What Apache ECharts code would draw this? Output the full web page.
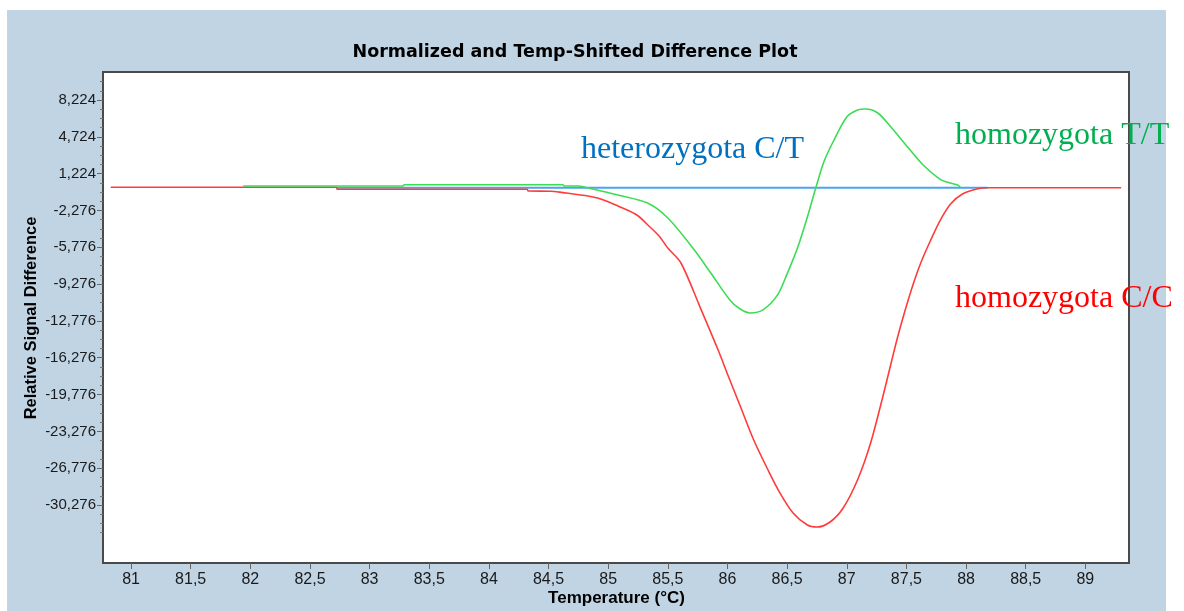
<!DOCTYPE html>
<html>
<head>
<meta charset="utf-8">
<title>Normalized and Temp-Shifted Difference Plot</title>
<script src="https://cdn.jsdelivr.net/npm/echarts@6/dist/echarts.min.js"></script>
<style>
  html, body { margin: 0; padding: 0; background: #ffffff; }
  #chart { width: 1184px; height: 611px; }
</style>
</head>
<body>
<div id="chart"></div>
<script>
// Temperature axis ticks (°C) and relative signal difference ticks
const xTickValues = [81, 81.5, 82, 82.5, 83, 83.5, 84, 84.5, 85, 85.5, 86, 86.5, 87, 87.5, 88, 88.5, 89];
const yTickValues = [8.224, 4.724, 1.224, -2.276, -5.776, -9.276, -12.776, -16.276, -19.776, -23.276, -26.776, -30.276];

// homozygota C/C (red)
const ccTemp = [80.83, 82.72, 82.73, 84.32, 84.33, 84.52, 84.62, 84.71, 84.82, 84.91, 85.00, 85.10, 85.24, 85.35, 85.43, 85.50, 85.61, 85.77, 85.92, 86.01, 86.11, 86.22, 86.34, 86.44, 86.55, 86.67, 86.75, 86.86, 86.97, 87.09, 87.20, 87.31, 87.42, 87.49, 87.56, 87.62, 87.70, 87.78, 87.87, 87.97, 88.09, 88.18, 89.30];
const ccDiff = [-0.07, -0.07, -0.26, -0.26, -0.43, -0.45, -0.58, -0.71, -0.88, -1.09, -1.45, -1.95, -2.71, -3.85, -4.75, -5.85, -7.27, -11.46, -15.5, -18.11, -20.96, -24.10, -26.95, -29.13, -31.03, -32.18, -32.37, -31.89, -30.56, -27.90, -24.38, -19.63, -14.59, -11.74, -9.17, -7.27, -5.18, -3.28, -1.66, -0.71, -0.24, -0.12, -0.12];

// homozygota T/T (green)
const ttTemp = [81.94, 83.28, 83.29, 84.62, 84.63, 84.75, 84.87, 85.08, 85.33, 85.50, 85.71, 85.86, 86.02, 86.10, 86.19, 86.30, 86.42, 86.50, 86.59, 86.67, 86.74, 86.81, 86.89, 87.00, 87.09, 87.16, 87.26, 87.37, 87.51, 87.64, 87.78, 87.86, 87.93, 87.95];
const ttDiff = [0.05, 0.05, 0.17, 0.17, 0.05, 0.05, -0.24, -0.81, -1.57, -2.99, -5.85, -8.22, -10.79, -11.6, -12.02, -11.7, -10.3, -8.3, -5.75, -2.90, -0.14, 2.4, 4.35, 6.61, 7.27, 7.37, 6.99, 5.66, 3.76, 2.04, 0.71, 0.35, 0.14, -0.05];

// heterozygota C/T (blue, reference)
const ctTemp = [82.72, 88.18];
const ctDiff = [-0.12, -0.12];

const pairs = (xs, ys) => xs.map((x, i) => [x, ys[i]]);

// minor ticks: four subdivisions per major step
const yStep = 3.5;
const yMinorTicks = [];
for (let k = -6; k <= 50; k++) {
  const v = +(8.224 + 2 * yStep / 4 - k * yStep / 4).toFixed(4);
  if (v <= 10.0 && v >= -33.2 && !yTickValues.includes(v)) yMinorTicks.push(v);
}

const chart = echarts.init(document.getElementById('chart'), null, { renderer: 'canvas' });

const tickFont = '"Liberation Sans", Arial, sans-serif';
const annotFont = '"Liberation Serif", "Times New Roman", serif';

const option = {
  backgroundColor: '#C1D4E4',
  animation: false,
  grid: {
    left: 103, top: 72, width: 1026, height: 491,
    show: true, backgroundColor: '#ffffff',
    borderColor: '#4a4a4a', borderWidth: 2
  },
  xAxis: {
    type: 'value', min: 80.765, max: 89.366, position: 'bottom',
    axisLine: { show: false, onZero: false },
    splitLine: { show: false },
    axisTick: { show: true, length: 6, customValues: xTickValues, lineStyle: { color: '#666', width: 1 } },
    axisLabel: {
      customValues: xTickValues, margin: 9,
      color: '#1a1a1a', fontFamily: tickFont, fontSize: 16,
      formatter: v => String(v).replace('.', ',')
    }
  },
  yAxis: [
    {
      type: 'value', min: -35.789, max: 10.886, position: 'left',
      axisLine: { show: false, onZero: false },
      splitLine: { show: false },
      axisTick: { show: true, length: 6, customValues: yTickValues, lineStyle: { color: '#666', width: 1 } },
      axisLabel: {
        customValues: yTickValues, margin: 7,
        color: '#1a1a1a', fontFamily: tickFont, fontSize: 15,
        formatter: v => v.toFixed(3).replace('.', ',')
      }
    },
    {
      type: 'value', min: -35.789, max: 10.886, position: 'left',
      axisLine: { show: false, onZero: false },
      splitLine: { show: false },
      axisTick: { show: true, length: 3, customValues: yMinorTicks, lineStyle: { color: '#777', width: 1 } },
      axisLabel: { show: false }
    }
  ],
  series: [
    {
      name: 'heterozygota C/T', type: 'line', data: pairs(ctTemp, ctDiff),
      showSymbol: false, lineStyle: { color: '#4AA3F0', width: 2 }, z: 2
    },
    {
      name: 'homozygota C/C', type: 'line', data: pairs(ccTemp, ccDiff),
      showSymbol: false, smooth: 0.3,
      lineStyle: { color: '#FF3C3C', width: 1.6 }, z: 3
    },
    {
      name: 'homozygota T/T', type: 'line', data: pairs(ttTemp, ttDiff),
      showSymbol: false, smooth: 0.3,
      lineStyle: { color: '#3CDC55', width: 1.6 }, z: 4
    }
  ],
  graphic: {
    elements: [
      // white margins around the panel
      { type: 'rect', shape: { x: 0, y: 0, width: 1184, height: 10 }, style: { fill: '#ffffff' }, silent: true, z: 1 },
      { type: 'rect', shape: { x: 0, y: 0, width: 7, height: 611 }, style: { fill: '#ffffff' }, silent: true, z: 1 },
      { type: 'rect', shape: { x: 1166, y: 0, width: 18, height: 611 }, style: { fill: '#ffffff' }, silent: true, z: 1 },
      {
        type: 'text', x: 575, y: 52, z: 10,
        style: {
          text: 'Normalized and Temp-Shifted Difference Plot',
          font: 'bold 17.5px "DejaVu Sans", Verdana, sans-serif', fill: '#000000',
          align: 'center', verticalAlign: 'middle', textAlign: 'center', textVerticalAlign: 'middle'
        }
      },
      {
        type: 'text', x: 616.5, y: 598, z: 10,
        style: {
          text: 'Temperature (°C)',
          font: 'bold 17px "Liberation Sans", Arial, sans-serif', fill: '#000000',
          align: 'center', verticalAlign: 'middle', textAlign: 'center', textVerticalAlign: 'middle'
        }
      },
      {
        type: 'text', x: 31, y: 318, rotation: Math.PI / 2, z: 10,
        style: {
          text: 'Relative Signal Difference',
          font: 'bold 16.5px "Liberation Sans", Arial, sans-serif', fill: '#000000',
          align: 'center', verticalAlign: 'middle', textAlign: 'center', textVerticalAlign: 'middle'
        }
      },
      {
        type: 'text', x: 581, y: 149.5, z: 20,
        style: {
          text: 'heterozygota C/T', font: '32px ' + annotFont, fill: '#0070C0',
          align: 'left', verticalAlign: 'middle', textAlign: 'left', textVerticalAlign: 'middle'
        }
      },
      {
        type: 'text', x: 955, y: 135.5, z: 20,
        style: {
          text: 'homozygota T/T', font: '32px ' + annotFont, fill: '#00B050',
          align: 'left', verticalAlign: 'middle', textAlign: 'left', textVerticalAlign: 'middle'
        }
      },
      {
        type: 'text', x: 955, y: 298.5, z: 20,
        style: {
          text: 'homozygota C/C', font: '32px ' + annotFont, fill: '#FF0000',
          align: 'left', verticalAlign: 'middle', textAlign: 'left', textVerticalAlign: 'middle'
        }
      }
    ]
  }
};

chart.setOption(option);
</script>
</body>
</html>
